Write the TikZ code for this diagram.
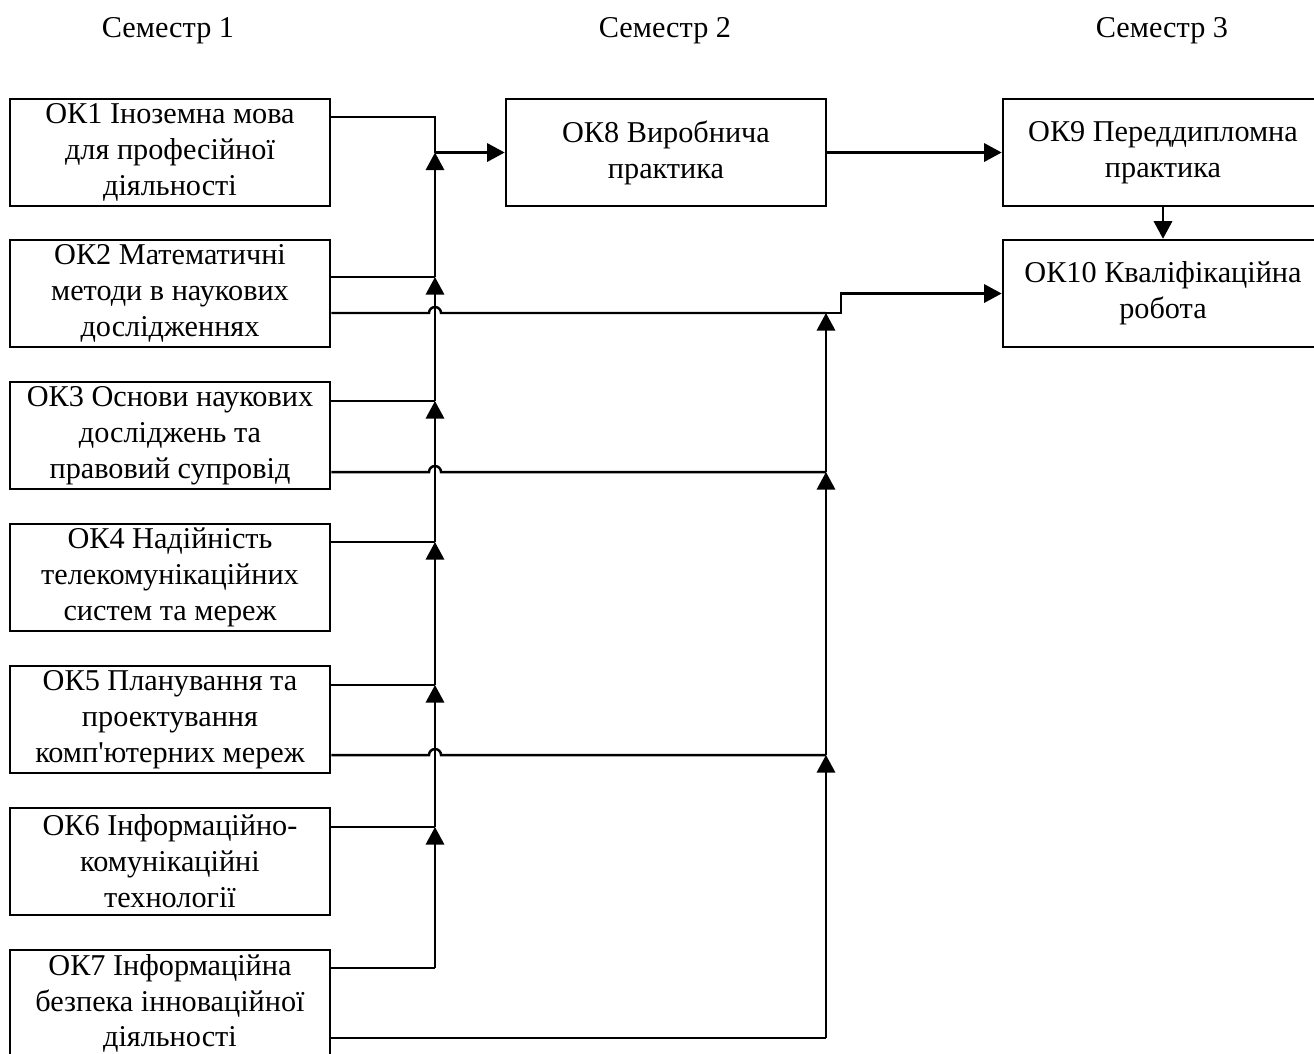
\documentclass[tikz,border=0pt]{standalone}
\usepackage{fontspec}
\setmainfont{Liberation Serif}
\usetikzlibrary{arrows.meta,calc}
\begin{document}
\begin{tikzpicture}[x=0.01cm, y=-0.01cm, line width=0.7pt, font=\fontsize{8.6}{10.2}\selectfont,
	block/.style = {draw, line width=0.7pt, minimum width=3.2cm, minimum height=1.07cm, inner sep=0pt, align=center},
	head/.style = {inner sep=0pt},
	arr/.style = {-{Triangle[length=5pt, width=5.2pt]}}]
	
	\useasboundingbox (0,0) rectangle (1314,1053);
	
	\node[head] (sem1) at (168,31) {Семестр 1};
	\node[head] (sem2) at (665,31) {Семестр 2};
	\node[head] (sem3) at (1162,31) {Семестр 3};
	
	\node[block] (ok1) at (170,152.5) {ОК1 Іноземна мова\\для професійної\\діяльності};
	\node[block] (ok2) at (170,293.5) {ОК2 Математичні\\методи в наукових\\дослідженнях};
	\node[block] (ok3) at (170,435.5) {ОК3 Основи наукових\\досліджень та\\правовий супровід};
	\node[block] (ok4) at (170,577.5) {ОК4 Надійність\\телекомунікаційних\\систем та мереж};
	\node[block] (ok5) at (170,719.5) {ОК5 Планування та\\проектування\\комп\textquotesingle ютерних мереж};
	\node[block] (ok6) at (170,861.5) {ОК6 Інформаційно-\\комунікаційні\\технології};
	\node[block] (ok7) at (170,1003.5) {ОК7 Інформаційна\\безпека інноваційної\\діяльності};
	\node[block] (ok8) at (666,152.5) {ОК8 Виробнича\\практика};
	\node[block] (ok9) at (1163,152.5) {ОК9 Переддипломна\\практика};
	\node[block] (ok10) at (1163,293.5) {ОК10 Кваліфікаційна\\робота};
	
	\coordinate (a1) at (435,117);
	\coordinate (j1) at (435,152.5);
	\coordinate (j2) at (435,277);
	\coordinate (j3) at (435,401);
	\coordinate (j4) at (435,542);
	\coordinate (j5) at (435,685);
	\coordinate (j6) at (435,827);
	\coordinate (j7) at (435,968);
	\coordinate (k2) at (826,313);
	\coordinate (k3) at (826,472);
	\coordinate (k5) at (826,755);
	\coordinate (k7) at (826,1038);
	
	\draw[-] (ok1.east |- a1) -- (a1) -- (j1);
	\draw[arr] (j1) -- (ok8);
	\draw[arr] (ok8) -- (ok9);
	\draw[arr] (ok9) -- (ok10);
	
	\draw[-] (ok2.east |- j2) -- (j2);
	\draw[-] (ok3.east |- j3) -- (j3);
	\draw[-] (ok4.east |- j4) -- (j4);
	\draw[-] (ok5.east |- j5) -- (j5);
	\draw[-] (ok6.east |- j6) -- (j6);
	\draw[-] (ok7.east |- j7) -- (j7);
	\draw[arr] (j2) -- (j1);
	\draw[arr] (j3) -- (j2);
	\draw[arr] (j4) -- (j3);
	\draw[arr] (j5) -- (j4);
	\draw[arr] (j6) -- (j5);
	\draw[arr] (j7) -- (j6);
	
	\draw[-] (ok2.east |- k2) -- ($(j1 |- k2)+(-6,0)$) arc[start angle=180, end angle=0, radius=0.06cm] -- (k2);
	\draw[-] (ok3.east |- k3) -- ($(j1 |- k3)+(-6,0)$) arc[start angle=180, end angle=0, radius=0.06cm] -- (k3);
	\draw[-] (ok5.east |- k5) -- ($(j1 |- k5)+(-6,0)$) arc[start angle=180, end angle=0, radius=0.06cm] -- (k5);
	\draw[-] (ok7.east |- k7) -- (k7);
	\draw[arr] (k7) -- (k5);
	\draw[arr] (k5) -- (k3);
	\draw[arr] (k3) -- (k2);
	\draw[arr] (k2) -- ++(15,0) |- (ok10.west);
	
\end{tikzpicture}
\end{document}
